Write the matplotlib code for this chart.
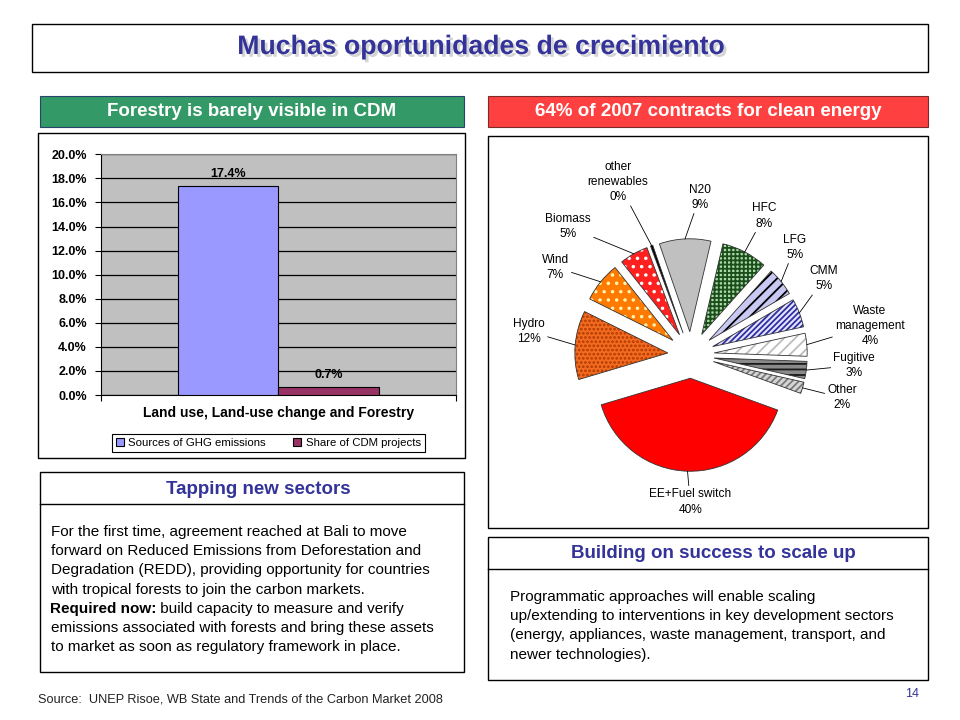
"""Slide: forestry share in CDM (bar) and 2007 contracts by sector (exploded pie)."""

import numpy as np
import matplotlib
matplotlib.use("Agg")
import matplotlib.pyplot as plt
from matplotlib import patheffects
from matplotlib.patches import Rectangle, Wedge
from matplotlib.ticker import MultipleLocator, PercentFormatter

# --- bar chart data ---
bar_category = "Land use, Land-use change and Forestry"
bar_series = ["Sources of GHG emissions", "Share of CDM projects"]
bar_values = [0.174, 0.007]

# --- pie chart data (share of 2007 contracts, %) ---
pie_sectors = ["EE+Fuel switch", "Hydro", "Wind", "Biomass", "other\nrenewables",
               "N20", "HFC", "LFG", "CMM", "Waste\nmanagement", "Fugitive", "Other"]
pie_shares = [40, 12, 7, 5, 0.4, 9, 8, 5, 5, 4, 3, 2]

# --- slide texts ---
title = "Muchas oportunidades de crecimiento"
left_header = "Forestry is barely visible in CDM"
right_header = "64% of 2007 contracts for clean energy"
tapping_title = "Tapping new sectors"
tapping_lines = [
    "For the first time, agreement reached at Bali to move",
    "forward on Reduced Emissions from Deforestation and",
    "Degradation (REDD), providing opportunity for countries",
    "with tropical forests to join the carbon markets.",
    ("Required now:", " build capacity to measure and verify"),
    "emissions associated with forests and bring these assets",
    "to market as soon as regulatory framework in place.",
]
building_title = "Building on success to scale up"
building_lines = [
    "Programmatic approaches will enable scaling",
    "up/extending to interventions in key development sectors",
    "(energy, appliances, waste management, transport, and",
    "newer technologies).",
]
source_text = "Source:  UNEP Risoe, WB State and Trends of the Carbon Market 2008"
page_number = "14"

NAVY = "#333399"
FONT = ["Liberation Sans", "DejaVu Sans"]
BODY_SIZE = 11
HEAD_SIZE = 13.5

# pie styling: face, hatch, hatch colour
pie_style = [
    ("#FF0000", None, "#FF0000"),
    ("#F26B21", "....", "#B03A00"),
    ("#FF7A00", "..", "#FFF3B0"),
    ("#FF2020", "..", "#FFFFFF"),
    ("#000000", None, "#000000"),
    ("#C0C0C0", None, "#C0C0C0"),
    ("#A9D8A9", "++++", "#1B4D1B"),
    ("#C8C8F2", "///", "#000000"),
    ("#E4E4FF", "//////", "#2E2EA0"),
    ("#FFFFFF", "///", "#BDBDBD"),
    ("#8A8A8A", "---", "#1A1A1A"),
    ("#D6D6D6", "/////", "#7A7A7A"),
]
# label placement: angle shift from wedge middle (deg), distance in radii
label_shift = [1.4, -3.4, 6.1, 14.3, 3.1, -6.1, -0.3, 6.9, 8.6, 4.2, 3.8, 0.6]
label_dist = [1.58, 1.76, 1.74, 1.91, 2.02, 1.70, 1.69, 1.61, 1.65, 1.95, 1.76, 1.69]

W, H = 960, 720


def fig_rect(x0, y0, x1, y1):
    """Pixel box (top-left origin) to figure fraction rect."""
    return [x0 / W, 1 - y1 / H, (x1 - x0) / W, (y1 - y0) / H]


def box(ax, x0, y0, x1, y1, face="white", edge="black", lw=1.0):
    ax.add_patch(Rectangle((x0, y0), x1 - x0, y1 - y0, facecolor=face,
                           edgecolor=edge, linewidth=lw))


def draw_frame(ax):
    # title box
    box(ax, 32, 24, 928, 72)
    ax.text(480, 47, title, ha="center", va="center", fontsize=19.2,
            fontweight="bold", color=NAVY, family=FONT,
            path_effects=[patheffects.withSimplePatchShadow(offset=(2, -2),
                                                            shadow_rgbFace="#a0a0a0",
                                                            alpha=0.45)])
    # coloured headers
    box(ax, 40, 96, 464, 127, face="#339966", edge="#27456b", lw=0.8)
    ax.text(252, 112, left_header, ha="center", va="center", fontsize=HEAD_SIZE,
            fontweight="bold", color="white", family=FONT)
    box(ax, 488, 96, 928, 127, face="#FF4040", edge="#7a2a2a", lw=0.8)
    ax.text(708, 112, right_header, ha="center", va="center", fontsize=HEAD_SIZE,
            fontweight="bold", color="white", family=FONT)

    # chart frames
    box(ax, 38, 133, 465, 458)
    box(ax, 488, 136, 928, 528)

    # tapping new sectors
    box(ax, 40, 472, 464, 672)
    ax.plot([40, 464], [504, 504], color="black", lw=1.0)
    ax.text(258, 489, tapping_title, ha="center", va="center", fontsize=HEAD_SIZE,
            fontweight="bold", color=NAVY, family=FONT)
    for i, line in enumerate(tapping_lines):
        y = 532 + i * 19.2
        if isinstance(line, tuple):
            t = ax.text(50, y, line[0], ha="left", va="center", fontsize=BODY_SIZE,
                        fontweight="bold", family=FONT)
            ax.annotate(line[1], xy=(1, 0.5), xycoords=t, ha="left", va="center",
                        fontsize=BODY_SIZE, family=FONT)
        else:
            ax.text(51, y, line, ha="left", va="center", fontsize=BODY_SIZE, family=FONT)

    # building on success
    box(ax, 488, 537, 928, 680)
    ax.plot([488, 928], [569, 569], color="black", lw=1.0)
    ax.text(713, 553, building_title, ha="center", va="center", fontsize=HEAD_SIZE,
            fontweight="bold", color=NAVY, family=FONT)
    for i, line in enumerate(building_lines):
        ax.text(510, 597 + i * 19.2, line, ha="left", va="center", fontsize=BODY_SIZE,
                family=FONT)

    ax.text(38, 699, source_text, ha="left", va="center", fontsize=9.2,
            color="#222222", family=FONT)
    ax.text(912, 694, page_number, ha="center", va="center", fontsize=9,
            color=NAVY, family=FONT)


def draw_bars(fig):
    ax = fig.add_axes(fig_rect(100.7, 154.3, 455.7, 395))
    ax.set_facecolor("#C0C0C0")
    width = 0.2836
    colors = ["#9999FF", "#993366"]
    offsets = (np.arange(len(bar_values)) - (len(bar_values) - 1) / 2) * width
    handles = []
    for off, val, name, col in zip(offsets, bar_values, bar_series, colors):
        bars = ax.bar([off], [val], width=width, color=col, edgecolor="black",
                      linewidth=0.8, label=name, zorder=3)
        ax.bar_label(bars, labels=[f"{val * 100:.1f}%"], padding=4, fontsize=9,
                     fontweight="bold", family=FONT)
        handles.append(bars)

    ax.set_xlim(-0.5, 0.5)
    ax.set_ylim(0, 0.20)
    ax.yaxis.set_major_locator(MultipleLocator(0.02))
    ax.yaxis.set_major_formatter(PercentFormatter(1.0, decimals=1))
    ax.yaxis.grid(True, color="black", linewidth=0.9)
    ax.set_axisbelow(True)
    ax.set_xticks([-0.5, 0.5], labels=["", ""])
    ax.set_xticks([0], labels=[bar_category], minor=True)
    ax.tick_params(axis="x", which="minor", length=0, pad=8, labelsize=10)
    ax.tick_params(axis="x", which="major", length=4, direction="out")
    ax.tick_params(axis="y", length=4, direction="out", labelsize=9, pad=6)
    for lab in ax.get_xticklabels(minor=True) + ax.get_yticklabels():
        lab.set_fontweight("bold")
        lab.set_family(FONT)
    for side in ("left", "bottom"):
        ax.spines[side].set_color("black")
    for side in ("top", "right"):
        ax.spines[side].set_color("#808080")

    leg = fig.legend(handles=handles, labels=bar_series, loc="center",
                     bbox_to_anchor=((113 + 424) / 2 / W, 1 - 443 / H), ncol=2,
                     prop={"family": FONT, "size": 8.2},
                     frameon=True, fancybox=False, framealpha=1, edgecolor="black",
                     handlelength=0.7, handleheight=0.7, handletextpad=0.4,
                     columnspacing=2.4, borderpad=0.35)
    leg.get_frame().set_linewidth(0.8)


def draw_pie(fig):
    scale = 93.0  # pixels per radius
    cx, cy = 691.0, 355.0
    ax = fig.add_axes(fig_rect(488, 136, 928, 528))
    colors = [s[0] for s in pie_style]
    wedges, _ = ax.pie(pie_shares, explode=[0.25] * len(pie_shares), startangle=340,
                       counterclock=False, colors=colors, radius=1.0,
                       wedgeprops=dict(linewidth=0))
    for w, (face, hatch, hcol) in zip(wedges, pie_style):
        if hatch:
            w.set_hatch(hatch)
            w.set_edgecolor(hcol)
        ax.add_patch(Wedge(w.center, w.r, w.theta1, w.theta2, fill=False,
                           edgecolor="#333333", linewidth=0.6))

    for w, name, val, shift, dist in zip(wedges, pie_sectors, pie_shares,
                                         label_shift, label_dist):
        mid = np.deg2rad((w.theta1 + w.theta2) / 2)
        anchor = (w.center[0] + w.r * np.cos(mid), w.center[1] + w.r * np.sin(mid))
        ang = mid + np.deg2rad(shift)
        pos = (dist * np.cos(ang), dist * np.sin(ang))
        ax.annotate(f"{name}\n{round(val)}%", xy=anchor, xytext=pos, ha="center",
                    va="center", fontsize=8.6, family=FONT, linespacing=1.35,
                    arrowprops=dict(arrowstyle="-", color="black", lw=0.6,
                                    shrinkA=0, shrinkB=0))

    ax.set_xlim((488 - cx) / scale, (928 - cx) / scale)
    ax.set_ylim(-(528 - cy) / scale, (cy - 136) / scale)
    ax.set_aspect("auto")
    ax.axis("off")


def main():
    plt.rcParams["hatch.linewidth"] = 1.3
    fig = plt.figure(figsize=(9.6, 7.2), dpi=100)
    fig.patch.set_facecolor("white")
    bg = fig.add_axes([0, 0, 1, 1])
    bg.set_xlim(0, W)
    bg.set_ylim(H, 0)
    bg.axis("off")
    draw_frame(bg)
    draw_bars(fig)
    draw_pie(fig)
    fig.savefig("out.png", dpi=100, facecolor="white")
    plt.close(fig)


if __name__ == "__main__":
    main()
